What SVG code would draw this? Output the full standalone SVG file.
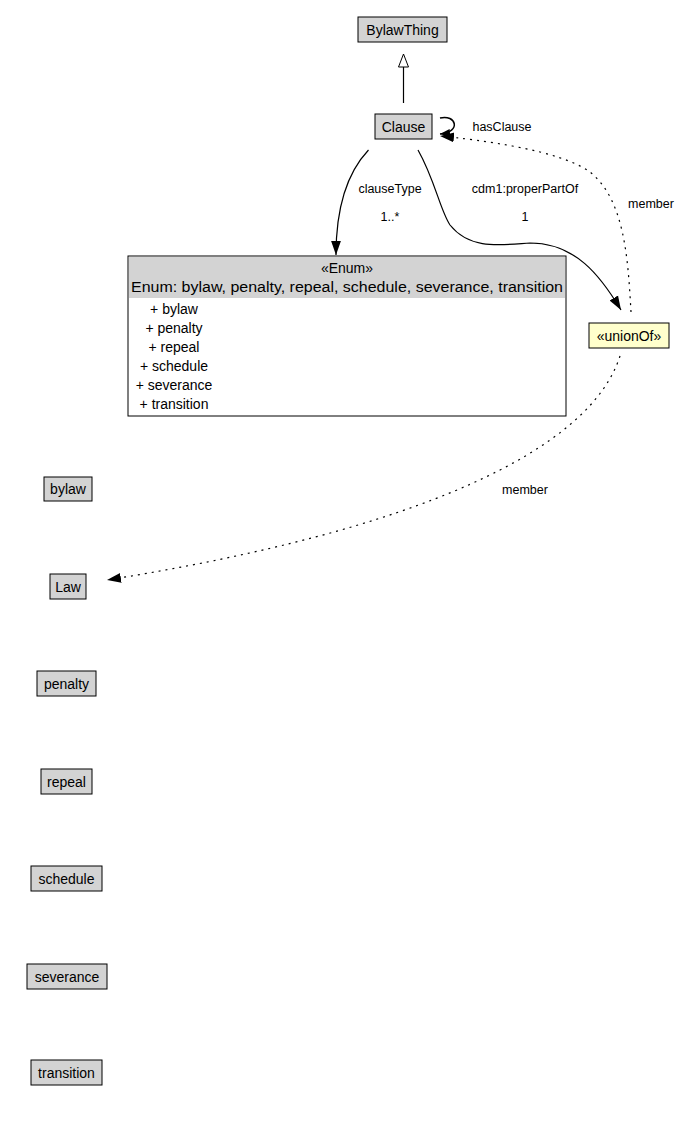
<svg xmlns="http://www.w3.org/2000/svg" width="683" height="1124" viewBox="0 0 683 1124">
<style>
.n{fill:#d3d3d3;stroke:#000;stroke-width:1}
.t{font-family:"Liberation Sans",Arial,sans-serif;font-size:14px;fill:#000;text-anchor:middle}
.l{font-family:"Liberation Sans",Arial,sans-serif;font-size:12.5px;fill:#000;text-anchor:middle}
.e{fill:none;stroke:#000;stroke-width:1.2}
.d{fill:none;stroke:#000;stroke-width:1.2;stroke-dasharray:2,5}
</style>
<defs>
<marker id="a" viewBox="0 0 10 10" refX="10" refY="5" markerWidth="10" markerHeight="10" markerUnits="userSpaceOnUse" orient="auto"><path d="M0,1 L10,5 L0,9 z" fill="#000"/></marker>
<marker id="ad" viewBox="0 0 10 10" refX="10" refY="5" markerWidth="14" markerHeight="14" markerUnits="userSpaceOnUse" orient="auto"><path d="M0,1.5 L10,5 L0,8.5 z" fill="#000"/></marker>
</defs>
<rect width="683" height="1124" fill="#fff"/>
<g id="connectors">
<line x1="403.5" y1="103" x2="403.5" y2="67" class="e"/>
<path d="M403.5,54 L398.5,67 L408.5,67 z" fill="#fff" stroke="#000"/>
<path class="e" d="M440,118 C456,114 462,132 440,134" marker-end="url(#a)" style="stroke-width:1.5"/>
<path class="d" d="M631,312 C628,260 625,200 590,172 C560,150 480,140 440,136" marker-end="url(#ad)"/>
<path class="e" d="M368.5,150 C345,175 336,210 336,255" marker-end="url(#ad)"/>
<path class="e" d="M418,150 C435,180 440,210 450,225 C470,250 500,245 530,243 C575,243 600,275 621,310" marker-end="url(#ad)"/>
<path class="d" d="M620,356 C590,450 420,530 107,580" marker-end="url(#ad)"/>
</g>
<text class="l" x="502" y="131" style="text-anchor:middle">hasClause</text>
<text class="l" x="390" y="193">clauseType</text>
<text class="l" x="390" y="221">1..*</text>
<text class="l" x="525" y="193">cdm1:properPartOf</text>
<text class="l" x="525" y="221">1</text>
<text class="l" x="651" y="208">member</text>
<text class="l" x="525" y="494">member</text>
<g id="BylawThing"><rect class="n" x="358" y="17" width="89" height="25"/><text class="t" x="402.5" y="35">BylawThing</text></g>
<g id="Clause"><rect class="n" x="375" y="114" width="57" height="25"/><text class="t" x="403.5" y="132">Clause</text></g>
<g id="Enum">
<rect x="128" y="256" width="438" height="160" fill="#fff" stroke="#000"/>
<rect x="129" y="257" width="436" height="41" fill="#d3d3d3"/>
<text class="t" x="347" y="273">«Enum»</text>
<text class="t" x="347" y="292" textLength="432" lengthAdjust="spacingAndGlyphs">Enum: bylaw, penalty, repeal, schedule, severance, transition</text>
<text class="t" x="174" y="314">+ bylaw</text>
<text class="t" x="174" y="333">+ penalty</text>
<text class="t" x="174" y="352">+ repeal</text>
<text class="t" x="174" y="371">+ schedule</text>
<text class="t" x="174" y="390">+ severance</text>
<text class="t" x="174" y="409">+ transition</text>
</g>
<g id="unionOf"><rect x="589" y="323" width="80" height="25" fill="#ffffcc" stroke="#000"/><text class="t" x="629" y="341">«unionOf»</text></g>
<g id="bylaw"><rect class="n" x="44" y="477" width="48" height="24"/><text class="t" x="68" y="494">bylaw</text></g>
<g id="Law"><rect class="n" x="50" y="574" width="36" height="25"/><text class="t" x="68" y="592">Law</text></g>
<g id="penalty"><rect class="n" x="37" y="671" width="59" height="25"/><text class="t" x="66.5" y="689">penalty</text></g>
<g id="repeal"><rect class="n" x="41" y="769" width="51" height="25"/><text class="t" x="66.5" y="787">repeal</text></g>
<g id="schedule"><rect class="n" x="31" y="866" width="71" height="25"/><text class="t" x="66.5" y="884">schedule</text></g>
<g id="severance"><rect class="n" x="27" y="964" width="80" height="25"/><text class="t" x="67" y="982">severance</text></g>
<g id="transition"><rect class="n" x="31" y="1060" width="71" height="25"/><text class="t" x="66.5" y="1078">transition</text></g>
</svg>
